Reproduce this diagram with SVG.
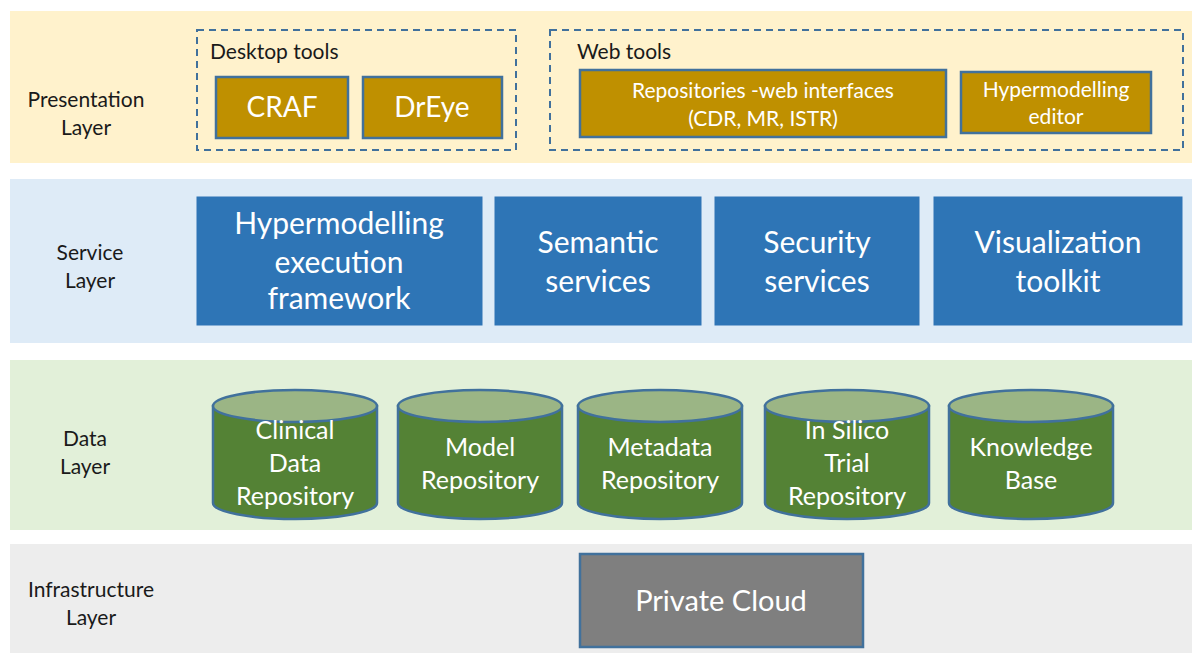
<svg xmlns="http://www.w3.org/2000/svg" width="1192" height="653" viewBox="0 0 1192 653">
  <style>
    text { font-family: "Lato", "Open Sans", "Liberation Sans", sans-serif; text-anchor: middle; }
    .layer-label { fill: #1a1a1a; font-size: 21px; }
    .group-label { fill: #1a1a1a; font-size: 21px; text-anchor: start; }
    .dash { fill: none; stroke: #41719C; stroke-width: 2; stroke-dasharray: 7 5; }
    .tool { fill: #BF9000; stroke: #41719C; stroke-width: 2.5; }
    .tool-big { fill: #ffffff; font-size: 28px; }
    .tool-small { fill: #ffffff; font-size: 21px; }
    .svc { fill: #2E75B6; stroke: #2E75B6; stroke-width: 1; }
    .svc-text { fill: #ffffff; font-size: 30px; }
    .cyl-body { fill: #548235; stroke: #41719C; stroke-width: 2.5; }
    .cyl-top { fill: #9BB585; stroke: #41719C; stroke-width: 2.5; }
    .cyl-text { fill: #ffffff; font-size: 25px; }
    .infra { fill: #7F7F7F; stroke: #41719C; stroke-width: 2.5; }
  </style>

  <rect width="1192" height="653" fill="#ffffff"/>

  <!-- layer bands -->
  <g id="presentation-layer">
    <rect x="10" y="11" width="1182" height="152" fill="#FFF2CC"/>
    <text class="layer-label" x="86" y="107">Presentation</text>
    <text class="layer-label" x="86" y="135">Layer</text>
  </g>
  <g id="service-layer">
    <rect x="10" y="179" width="1182" height="164" fill="#DEEBF7"/>
    <text class="layer-label" x="90" y="260">Service</text>
    <text class="layer-label" x="90" y="288">Layer</text>
  </g>
  <g id="data-layer">
    <rect x="10" y="360" width="1182" height="170" fill="#E2F0D9"/>
    <text class="layer-label" x="85" y="446">Data</text>
    <text class="layer-label" x="85" y="474">Layer</text>
  </g>
  <g id="infrastructure-layer">
    <rect x="10" y="544" width="1182" height="109" fill="#EDEDED"/>
    <text class="layer-label" x="91" y="597">Infrastructure</text>
    <text class="layer-label" x="91" y="625">Layer</text>
  </g>

  <!-- presentation: desktop tools -->
  <g id="desktop-tools">
    <rect class="dash" x="197" y="30" width="319" height="120"/>
    <text class="group-label" x="210" y="59">Desktop tools</text>
  </g>
  <g id="craf">
    <rect class="tool" x="216" y="77" width="132" height="61"/>
    <text class="tool-big" x="282" y="117">CRAF</text>
  </g>
  <g id="dreye">
    <rect class="tool" x="363" y="77" width="139" height="61"/>
    <text class="tool-big" x="432" y="117">DrEye</text>
  </g>

  <!-- presentation: web tools -->
  <g id="web-tools">
    <rect class="dash" x="550" y="30" width="633" height="120"/>
    <text class="group-label" x="577" y="59">Web tools</text>
  </g>
  <g id="repositories-web">
    <rect class="tool" x="580" y="70" width="366" height="67"/>
    <text class="tool-small" x="763" y="98">Repositories -web interfaces</text>
    <text class="tool-small" x="763" y="126">(CDR, MR, ISTR)</text>
  </g>
  <g id="hypermodelling-editor">
    <rect class="tool" x="961" y="72" width="190" height="61"/>
    <text class="tool-small" x="1056" y="97">Hypermodelling</text>
    <text class="tool-small" x="1056" y="124">editor</text>
  </g>

  <!-- service layer boxes -->
  <g id="hypermodelling-framework">
    <rect class="svc" x="197" y="197" width="285" height="128"/>
    <text class="svc-text" x="339" y="234">Hypermodelling</text>
    <text class="svc-text" x="339" y="273">execution</text>
    <text class="svc-text" x="339" y="309">framework</text>
  </g>
  <g id="semantic-services">
    <rect class="svc" x="495" y="197" width="206" height="128"/>
    <text class="svc-text" x="598" y="253">Semantic</text>
    <text class="svc-text" x="598" y="292">services</text>
  </g>
  <g id="security-services">
    <rect class="svc" x="715" y="197" width="204" height="128"/>
    <text class="svc-text" x="817" y="253">Security</text>
    <text class="svc-text" x="817" y="292">services</text>
  </g>
  <g id="visualization-toolkit">
    <rect class="svc" x="934" y="197" width="248" height="128"/>
    <text class="svc-text" x="1058" y="253">Visualization</text>
    <text class="svc-text" x="1058" y="292">toolkit</text>
  </g>

  <!-- data layer repositories (cylinders) -->
  <g id="clinical-data-repository">
    <path class="cyl-body" d="M213,406 L213,503 A82,16 0 0 0 377,503 L377,406 Z"/>
    <ellipse class="cyl-top" cx="295" cy="406" rx="82" ry="16"/>
    <text class="cyl-text" x="295" y="439">Clinical</text>
    <text class="cyl-text" x="295" y="472">Data</text>
    <text class="cyl-text" x="295" y="505">Repository</text>
  </g>
  <g id="model-repository">
    <path class="cyl-body" d="M398,406 L398,503 A82,16 0 0 0 562,503 L562,406 Z"/>
    <ellipse class="cyl-top" cx="480" cy="406" rx="82" ry="16"/>
    <text class="cyl-text" x="480" y="456">Model</text>
    <text class="cyl-text" x="480" y="489">Repository</text>
  </g>
  <g id="metadata-repository">
    <path class="cyl-body" d="M578,406 L578,503 A82,16 0 0 0 742,503 L742,406 Z"/>
    <ellipse class="cyl-top" cx="660" cy="406" rx="82" ry="16"/>
    <text class="cyl-text" x="660" y="456">Metadata</text>
    <text class="cyl-text" x="660" y="489">Repository</text>
  </g>
  <g id="in-silico-trial-repository">
    <path class="cyl-body" d="M765,406 L765,503 A82,16 0 0 0 929,503 L929,406 Z"/>
    <ellipse class="cyl-top" cx="847" cy="406" rx="82" ry="16"/>
    <text class="cyl-text" x="847" y="439">In Silico</text>
    <text class="cyl-text" x="847" y="472">Trial</text>
    <text class="cyl-text" x="847" y="505">Repository</text>
  </g>
  <g id="knowledge-base">
    <path class="cyl-body" d="M949,406 L949,503 A82,16 0 0 0 1113,503 L1113,406 Z"/>
    <ellipse class="cyl-top" cx="1031" cy="406" rx="82" ry="16"/>
    <text class="cyl-text" x="1031" y="456">Knowledge</text>
    <text class="cyl-text" x="1031" y="489">Base</text>
  </g>

  <!-- infrastructure -->
  <g id="private-cloud">
    <rect class="infra" x="580" y="554" width="283" height="93"/>
    <text x="721" y="611" fill="#ffffff" font-size="29">Private Cloud</text>
  </g>

  <g id="connectors"/>
</svg>
